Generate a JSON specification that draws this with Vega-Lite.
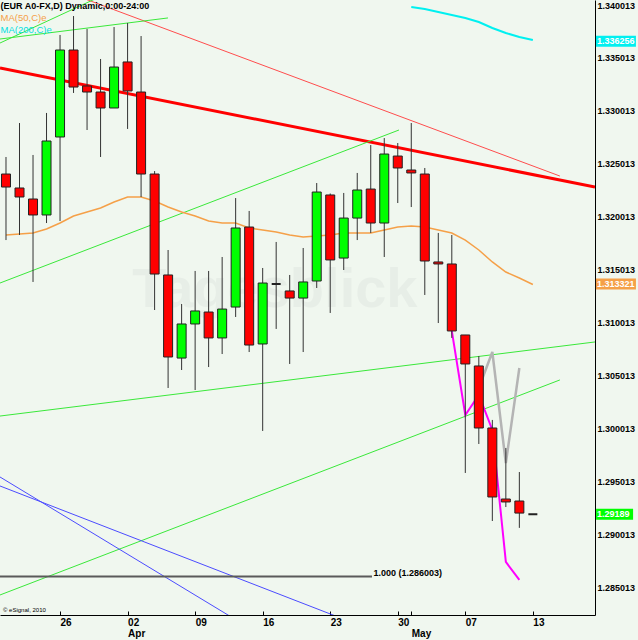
{
  "$schema": "https://vega.github.io/schema/vega-lite/v6.json",
  "width": 595,
  "height": 615,
  "autosize": {"type": "none"},
  "padding": {"left": 0, "top": 0, "right": 43, "bottom": 25},
  "background": "#f0f7ef",
  "view": {"stroke": null, "fill": "#f0f7ef"},
  "config": {
    "font": "Liberation Sans, Arial, sans-serif",
    "axis": {"grid": false, "title": null},
    "scale": {"continuousPadding": 0}
  },
  "datasets": {
    "candles": [
      {"i": 0, "open": 1.32404, "high": 1.32565, "low": 1.3178, "close": 1.32281},
      {"i": 1, "open": 1.32272, "high": 1.32886, "low": 1.31828, "close": 1.32187},
      {"i": 2, "open": 1.32168, "high": 1.32584, "low": 1.31384, "close": 1.32017},
      {"i": 3, "open": 1.32017, "high": 1.32981, "low": 1.31941, "close": 1.32716},
      {"i": 4, "open": 1.32754, "high": 1.33718, "low": 1.3196, "close": 1.33576},
      {"i": 5, "open": 1.33576, "high": 1.33897, "low": 1.3317, "close": 1.33226},
      {"i": 6, "open": 1.33236, "high": 1.33775, "low": 1.3282, "close": 1.33179},
      {"i": 7, "open": 1.33179, "high": 1.33491, "low": 1.32565, "close": 1.33028},
      {"i": 8, "open": 1.33028, "high": 1.33793, "low": 1.33028, "close": 1.33415},
      {"i": 9, "open": 1.33463, "high": 1.33831, "low": 1.3283, "close": 1.33189},
      {"i": 10, "open": 1.33179, "high": 1.33708, "low": 1.32187, "close": 1.32404},
      {"i": 11, "open": 1.32404, "high": 1.32432, "low": 1.31119, "close": 1.31459},
      {"i": 12, "open": 1.3145, "high": 1.31686, "low": 1.30382, "close": 1.30675},
      {"i": 13, "open": 1.30665, "high": 1.31176, "low": 1.30552, "close": 1.30987},
      {"i": 14, "open": 1.30987, "high": 1.31488, "low": 1.30363, "close": 1.3111},
      {"i": 15, "open": 1.311, "high": 1.31488, "low": 1.3058, "close": 1.30855},
      {"i": 16, "open": 1.30855, "high": 1.3162, "low": 1.30703, "close": 1.31128},
      {"i": 17, "open": 1.31147, "high": 1.32177, "low": 1.31053, "close": 1.31894},
      {"i": 18, "open": 1.31903, "high": 1.32055, "low": 1.30722, "close": 1.30788},
      {"i": 19, "open": 1.30798, "high": 1.31516, "low": 1.29976, "close": 1.31374},
      {"i": 20, "open": 1.31365, "high": 1.31762, "low": 1.3094, "close": 1.31365},
      {"i": 21, "open": 1.31299, "high": 1.3145, "low": 1.30609, "close": 1.31232},
      {"i": 22, "open": 1.31232, "high": 1.31705, "low": 1.30722, "close": 1.31384},
      {"i": 23, "open": 1.31393, "high": 1.32319, "low": 1.31327, "close": 1.32234},
      {"i": 24, "open": 1.32206, "high": 1.3222, "low": 1.31091, "close": 1.31592},
      {"i": 25, "open": 1.3161, "high": 1.32225, "low": 1.31497, "close": 1.31988},
      {"i": 26, "open": 1.31988, "high": 1.32414, "low": 1.3178, "close": 1.32253},
      {"i": 27, "open": 1.32262, "high": 1.32678, "low": 1.31847, "close": 1.31941},
      {"i": 28, "open": 1.31941, "high": 1.32744, "low": 1.3162, "close": 1.32593},
      {"i": 29, "open": 1.32574, "high": 1.32697, "low": 1.3213, "close": 1.32461},
      {"i": 30, "open": 1.32442, "high": 1.32886, "low": 1.32092, "close": 1.32414},
      {"i": 31, "open": 1.32404, "high": 1.32461, "low": 1.31261, "close": 1.31582},
      {"i": 32, "open": 1.31573, "high": 1.31847, "low": 1.30996, "close": 1.31554},
      {"i": 33, "open": 1.31554, "high": 1.31828, "low": 1.30855, "close": 1.30921},
      {"i": 34, "open": 1.30883, "high": 1.30883, "low": 1.29579, "close": 1.30609},
      {"i": 35, "open": 1.3059, "high": 1.30684, "low": 1.29853, "close": 1.30004},
      {"i": 36, "open": 1.30004, "high": 1.3008, "low": 1.29125, "close": 1.29352},
      {"i": 37, "open": 1.29333, "high": 1.29815, "low": 1.29257, "close": 1.29305},
      {"i": 38, "open": 1.29314, "high": 1.29588, "low": 1.2906, "close": 1.292},
      {"i": 39, "open": 1.29189, "high": 1.29189, "low": 1.29189, "close": 1.29189}
    ],
    "lines": [
      {"line": "r_thick", "i": -0.444, "p": 1.33406},
      {"line": "r_thick", "i": 43.6, "p": 1.32281},
      {"line": "r_thin", "i": 4.0, "p": 1.34147},
      {"line": "r_thin", "i": 41.0, "p": 1.32385},
      {"line": "g_top1", "i": -0.444, "p": 1.33642},
      {"line": "g_top1", "i": 7.7, "p": 1.34124},
      {"line": "g_top2", "i": -0.444, "p": 1.3368},
      {"line": "g_top2", "i": 11.99, "p": 1.33879},
      {"line": "g_B", "i": -0.444, "p": 1.31374},
      {"line": "g_B", "i": 29.09, "p": 1.3282},
      {"line": "g_C", "i": -0.444, "p": 1.30117},
      {"line": "g_C", "i": 43.6, "p": 1.30817},
      {"line": "g_D", "i": -0.444, "p": 1.28426},
      {"line": "g_D", "i": 41.0, "p": 1.30458},
      {"line": "b1", "i": -0.444, "p": 1.29541},
      {"line": "b1", "i": 18.06, "p": 1.28111},
      {"line": "b2", "i": -0.444, "p": 1.29456},
      {"line": "b2", "i": 26.2, "p": 1.28138},
      {"line": "lvl", "i": -0.444, "p": 1.286003},
      {"line": "lvl", "i": 27.09, "p": 1.286003},
      {"line": "ma50", "i": 0, "p": 1.31828},
      {"line": "ma50", "i": 1, "p": 1.31837},
      {"line": "ma50", "i": 2, "p": 1.31847},
      {"line": "ma50", "i": 3, "p": 1.31885},
      {"line": "ma50", "i": 4, "p": 1.31941},
      {"line": "ma50", "i": 5, "p": 1.32007},
      {"line": "ma50", "i": 6, "p": 1.32045},
      {"line": "ma50", "i": 7, "p": 1.32083},
      {"line": "ma50", "i": 8, "p": 1.3214},
      {"line": "ma50", "i": 9, "p": 1.32187},
      {"line": "ma50", "i": 10, "p": 1.32187},
      {"line": "ma50", "i": 11, "p": 1.32149},
      {"line": "ma50", "i": 12, "p": 1.32092},
      {"line": "ma50", "i": 13, "p": 1.32045},
      {"line": "ma50", "i": 14, "p": 1.32007},
      {"line": "ma50", "i": 15, "p": 1.3196},
      {"line": "ma50", "i": 16, "p": 1.31941},
      {"line": "ma50", "i": 17, "p": 1.31941},
      {"line": "ma50", "i": 18, "p": 1.31894},
      {"line": "ma50", "i": 19, "p": 1.31875},
      {"line": "ma50", "i": 20, "p": 1.31856},
      {"line": "ma50", "i": 21, "p": 1.31828},
      {"line": "ma50", "i": 22, "p": 1.31809},
      {"line": "ma50", "i": 23, "p": 1.31818},
      {"line": "ma50", "i": 24, "p": 1.31828},
      {"line": "ma50", "i": 25, "p": 1.31847},
      {"line": "ma50", "i": 26, "p": 1.31847},
      {"line": "ma50", "i": 27, "p": 1.31847},
      {"line": "ma50", "i": 28, "p": 1.31875},
      {"line": "ma50", "i": 29, "p": 1.31903},
      {"line": "ma50", "i": 30, "p": 1.31913},
      {"line": "ma50", "i": 31, "p": 1.31903},
      {"line": "ma50", "i": 32, "p": 1.31875},
      {"line": "ma50", "i": 33, "p": 1.31847},
      {"line": "ma50", "i": 34, "p": 1.3178},
      {"line": "ma50", "i": 35, "p": 1.31686},
      {"line": "ma50", "i": 36, "p": 1.31573},
      {"line": "ma50", "i": 37, "p": 1.31478},
      {"line": "ma50", "i": 38, "p": 1.31421},
      {"line": "ma50", "i": 39, "p": 1.3136},
      {"line": "ma200", "i": 30, "p": 1.33983},
      {"line": "ma200", "i": 31, "p": 1.33964},
      {"line": "ma200", "i": 32, "p": 1.33935},
      {"line": "ma200", "i": 33, "p": 1.33907},
      {"line": "ma200", "i": 34, "p": 1.33879},
      {"line": "ma200", "i": 35, "p": 1.33841},
      {"line": "ma200", "i": 36, "p": 1.33784},
      {"line": "ma200", "i": 37, "p": 1.33737},
      {"line": "ma200", "i": 38, "p": 1.33699},
      {"line": "ma200", "i": 39, "p": 1.3367},
      {"line": "proj_g", "i": 35, "p": 1.30382},
      {"line": "proj_g", "i": 36, "p": 1.30722},
      {"line": "proj_g", "i": 37, "p": 1.29673},
      {"line": "proj_g", "i": 38, "p": 1.30571},
      {"line": "proj_m", "i": 33, "p": 1.30921},
      {"line": "proj_m", "i": 34, "p": 1.30127},
      {"line": "proj_m", "i": 35, "p": 1.30316},
      {"line": "proj_m", "i": 36, "p": 1.29985},
      {"line": "proj_m", "i": 37, "p": 1.28738},
      {"line": "proj_m", "i": 38, "p": 1.28568}
    ],
    "tags": [
      {"kind": "ma200", "p": 1.336256, "label": "1.336256"},
      {"kind": "ma50", "p": 1.313321, "label": "1.313321"},
      {"kind": "last", "p": 1.29189, "label": "1.29189"}
    ]
  },
  "layer": [
    {
      "data": {"values": [{"t": "Tagesblick"}]},
      "mark": {"type": "text", "fontSize": 56, "fontWeight": "bold", "color": "#e7eee7", "align": "center", "baseline": "middle"},
      "encoding": {
        "x": {"datum": 19.9, "type": "quantitative", "scale": {"domain": [-0.444, 43.6], "nice": false, "zero": false, "padding": 0}},
        "y": {"datum": 1.31308, "type": "quantitative", "scale": {"domain": [1.282368, 1.3404855], "nice": false, "zero": false, "padding": 0}},
        "text": {"field": "t"}
      }
    },
    {
      "data": {"name": "lines"},
      "mark": {"type": "line", "clip": true},
      "encoding": {
        "x": {"field": "i", "type": "quantitative",
          "scale": {"domain": [-0.444, 43.6], "nice": false, "zero": false, "padding": 0},
          "axis": {
            "title": null, "values": [4, 9, 14, 19, 24, 29, 30, 34, 39],
            "labelExpr": "datum.value == 4 ? '26' : datum.value == 9 ? ['02','Apr'] : datum.value == 14 ? '09' : datum.value == 19 ? '16' : datum.value == 24 ? '23' : datum.value == 29 ? '30' : datum.value == 30 ? ['','May'] : datum.value == 34 ? '07' : '13'",
            "labelAlign": "left", "labelBaseline": "top", "labelFontSize": 10, "labelFontWeight": "bold",
            "labelColor": "#000000", "labelLineHeight": 11, "labelPadding": 6, "tickSize": -4, "tickColor": "#000000",
            "domainColor": "#000000", "grid": false, "labelOverlap": false, "labelFlush": false, "labelBound": false
          }
        },
        "y": {"field": "p", "type": "quantitative",
          "scale": {"domain": [1.282368, 1.3404855], "nice": false, "zero": false, "padding": 0},
          "axis": {
            "orient": "right", "title": null,
            "values": [1.285013, 1.290013, 1.295013, 1.300013, 1.305013, 1.310013, 1.315013, 1.320013, 1.325013, 1.330013, 1.335013, 1.340013],
            "format": ".6f", "ticks": false, "labelPadding": 2, "labelAlign": "left", "labelBaseline": "middle",
            "labelFontSize": 9, "labelFontWeight": "bold", "labelColor": "#000000", "domainColor": "#000000",
            "grid": false, "labelOverlap": false, "labelFlush": false, "labelBound": false
          }
        },
        "detail": {"field": "line"},
        "color": {"field": "line", "type": "nominal", "legend": null,
          "scale": {
            "domain": ["r_thick", "r_thin", "g_top1", "g_top2", "g_B", "g_C", "g_D", "b1", "b2", "lvl", "ma50", "ma200", "proj_g", "proj_m"],
            "range": ["#ff0000", "#ff4d4d", "#3ae83a", "#3ae83a", "#3ae83a", "#3ae83a", "#3ae83a", "#4b4bff", "#4b4bff", "#5a5a5a", "#f5a048", "#00f0f0", "#b4b4b4", "#ff00ff"]
          }
        },
        "strokeWidth": {"condition": [
          {"test": "datum.line == 'r_thick'", "value": 3},
          {"test": "datum.line == 'proj_g'", "value": 2.5},
          {"test": "datum.line == 'lvl' || datum.line == 'ma200' || datum.line == 'proj_m'", "value": 2},
          {"test": "datum.line == 'ma50'", "value": 1.5}
        ], "value": 1}
      }
    },
    {
      "data": {"name": "candles"},
      "mark": {"type": "rule", "color": "#333333", "strokeWidth": 1},
      "encoding": {
        "x": {"field": "i", "type": "quantitative", "scale": {"domain": [-0.444, 43.6], "nice": false, "zero": false, "padding": 0}},
        "y": {"field": "low", "type": "quantitative", "scale": {"domain": [1.282368, 1.3404855], "nice": false, "zero": false, "padding": 0}},
        "y2": {"field": "high"}
      }
    },
    {
      "data": {"name": "candles"},
      "mark": {"type": "bar", "width": 9, "stroke": "#222222"},
      "encoding": {
        "x": {"field": "i", "type": "quantitative", "scale": {"domain": [-0.444, 43.6], "nice": false, "zero": false, "padding": 0}},
        "y": {"field": "open", "type": "quantitative", "scale": {"domain": [1.282368, 1.3404855], "nice": false, "zero": false, "padding": 0}},
        "y2": {"field": "close"},
        "fill": {"condition": [
          {"test": "datum.close > datum.open", "value": "#00ff00"},
          {"test": "datum.close < datum.open", "value": "#ff0000"}
        ], "value": "#000000"},
        "strokeWidth": {"condition": {"test": "datum.close == datum.open", "value": 2}, "value": 1}
      }
    },
    {
      "data": {"values": [{"t": "1.000 (1.286003)"}]},
      "mark": {"type": "text", "fontSize": 9, "fontWeight": "bold", "color": "#000000", "align": "left", "baseline": "bottom", "dy": 1},
      "encoding": {
        "x": {"datum": 27.2, "type": "quantitative"},
        "y": {"datum": 1.286003, "type": "quantitative"},
        "text": {"field": "t"}
      }
    },
    {
      "data": {"values": [{"t": "© eSignal, 2010"}]},
      "mark": {"type": "text", "fontSize": 6, "color": "#000000", "align": "left", "baseline": "middle"},
      "encoding": {
        "x": {"datum": -0.22, "type": "quantitative"},
        "y": {"datum": 1.28285, "type": "quantitative"},
        "text": {"field": "t"}
      }
    },
    {
      "data": {"values": [{"t": "(EUR A0-FX,D) Dynamic,0:00-24:00"}]},
      "mark": {"type": "text", "fontSize": 9, "fontWeight": "bold", "color": "#000000", "align": "left", "baseline": "top"},
      "encoding": {
        "x": {"datum": -0.4, "type": "quantitative"},
        "y": {"datum": 1.34030, "type": "quantitative"},
        "text": {"field": "t"}
      }
    },
    {
      "data": {"values": [{"t": "MA(50,C)e"}]},
      "mark": {"type": "text", "fontSize": 9.5, "color": "#f5a048", "align": "left", "baseline": "top"},
      "encoding": {
        "x": {"datum": -0.4, "type": "quantitative"},
        "y": {"datum": 1.33926, "type": "quantitative"},
        "text": {"field": "t"}
      }
    },
    {
      "data": {"values": [{"t": "MA(200,C)e"}]},
      "mark": {"type": "text", "fontSize": 9.5, "color": "#00e0e0", "align": "left", "baseline": "top"},
      "encoding": {
        "x": {"datum": -0.4, "type": "quantitative"},
        "y": {"datum": 1.33812, "type": "quantitative"},
        "text": {"field": "t"}
      }
    },
    {
      "data": {"name": "tags"},
      "transform": [{"filter": "datum.kind != 'last'"}],
      "mark": {"type": "tick", "orient": "horizontal", "size": 40, "thickness": 11, "opacity": 1, "yOffset": -3.5, "clip": false},
      "encoding": {
        "x": {"datum": 45.15, "type": "quantitative"},
        "y": {"field": "p", "type": "quantitative"},
        "color": {"condition": [
          {"test": "datum.kind == 'ma200'", "value": "#00f0f0"},
          {"test": "datum.kind == 'ma50'", "value": "#f5a048"}
        ], "value": "#00ff00"}
      }
    },
    {
      "data": {"name": "tags"},
      "transform": [{"filter": "datum.kind == 'last'"}],
      "mark": {"type": "tick", "orient": "horizontal", "size": 37, "thickness": 11, "opacity": 1, "clip": false, "color": "#00ff00"},
      "encoding": {
        "x": {"datum": 45.05, "type": "quantitative"},
        "y": {"field": "p", "type": "quantitative"}
      }
    },
    {
      "data": {"name": "tags"},
      "transform": [{"filter": "datum.kind != 'last'"}],
      "mark": {"type": "text", "fontSize": 9, "fontWeight": "bold", "color": "#ffffff", "align": "left", "baseline": "middle", "yOffset": -3.5},
      "encoding": {
        "x": {"datum": 43.75, "type": "quantitative"},
        "y": {"field": "p", "type": "quantitative"},
        "text": {"field": "label"}
      }
    },
    {
      "data": {"name": "tags"},
      "transform": [{"filter": "datum.kind == 'last'"}],
      "mark": {"type": "text", "fontSize": 9, "fontWeight": "bold", "color": "#ffffff", "align": "left", "baseline": "middle"},
      "encoding": {
        "x": {"datum": 43.75, "type": "quantitative"},
        "y": {"field": "p", "type": "quantitative"},
        "text": {"field": "label"}
      }
    }
  ]
}
